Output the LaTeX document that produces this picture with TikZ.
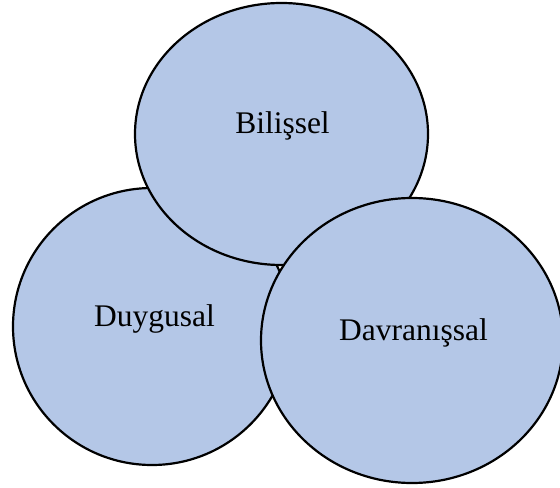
\documentclass[tikz,border=0pt]{standalone}
\usepackage{fontspec}
\setmainfont{Liberation Serif}
\usetikzlibrary{shapes.geometric}

\begin{document}
\begin{tikzpicture}[x=1bp, y=-1bp]
 \tikzset{
attitude/.style = {ellipse, draw=black, line width=2.2bp, fill=attblue, inner sep=0pt, outer sep=0pt},
part label/.style = {anchor=base, font=\fontsize{31.6}{38}\selectfont}}
\definecolor{attblue}{RGB}{180,199,231}

    \useasboundingbox (0,0) rectangle (560,488);
    \clip (0,0) rectangle (560,488);

    \node [attitude] (Duy)[minimum width = 278bp, minimum height = 277bp] at (152,326.5) {};
    \node [attitude] (Bil)[minimum width = 293bp, minimum height = 262bp] at (281.5,134) {};
    \node [attitude] (Dav)[minimum width = 302bp, minimum height = 285bp] at (412,340.5) {};

    \node [part label] (BilText)[xshift = 1bp] at (Bil.center) {Bilişsel};
    \node [part label] (DuyText)[xshift = 2.5bp] at (Duy.center) {Duygusal};
    \node [part label] (DavText)[xshift = 1.5bp] at (Dav.center) {Davranışsal};

  \end{tikzpicture}
\end{document}
